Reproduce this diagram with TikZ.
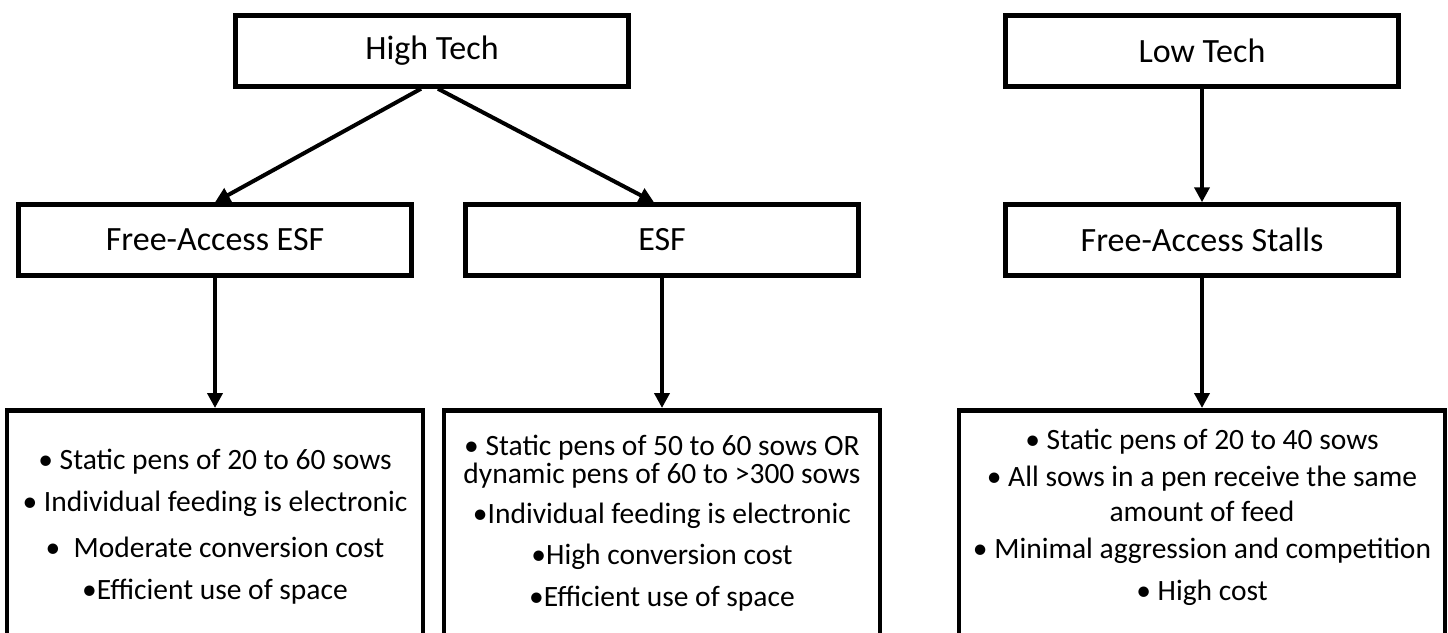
\documentclass[tikz,border=0pt]{standalone}
\usepackage{fontspec}
\setmainfont{Carlito}
\usetikzlibrary{arrows.meta,positioning}
\tikzset{
  techbox/.style={draw, line width=4.5pt, minimum width=393pt, minimum height=71pt,
    inner sep=0pt, font=\fontsize{34}{40}\selectfont},
  listbox/.style={draw, line width=4.5pt, minimum height=300pt, inner sep=0pt, anchor=north},
  listtext/.style={align=center, font=\fontsize{29.5}{42}\selectfont},
  arr/.style={line width=4pt, -{Triangle[length=15pt,width=15pt]}}
}
\begin{document}
\begin{tikzpicture}[x=1pt,y=-1pt]
        \useasboundingbox (0,0) rectangle (1448,632);
        \clip (0,0) rectangle (1448,632);
        % top row
        \node[techbox] (high) at (432,51) {High Tech};
        \node[techbox] (low) at (1202,51) {Low Tech};
        % second row
        \node[techbox] (faesf) at (215,240) {Free-Access ESF};
        \node[techbox] (esf) at (662,240) {ESF};
        \node[techbox] (fastall) at (1202,240) {Free-Access Stalls};
        % bottom row, open at the lower edge
        \node[listbox, minimum width=416pt] (faesflist) at (215,408) {};
        \node[listbox, minimum width=436pt] (esflist) at (662,408) {};
        \node[listbox, minimum width=486pt] (fastalllist) at (1202,408) {};

        \node[listtext] (faesftext) at (215,527) {• Static pens of 20 to 60 sows\\
            • Individual feeding is electronic\\[4pt]
            •\ \ Moderate conversion cost\\
            •Efficient use of space};
        \node[listtext] (esftext) at (662,523) {• Static pens of 50 to 60 sows OR\\[-14pt]
            dynamic pens of 60 to >300 sows\\[-2pt]
            •Individual feeding is electronic\\[-1pt]
            •High conversion cost\\
            •Efficient use of space};
        \node[listtext] (fastalltext) at (1202,517) {• Static pens of 20 to 40 sows\\[-5pt]
            • All sows in a pen receive the same\\[-7pt]
            amount of feed\\[-5pt]
            • Minimal aggression and competition\\
            • High cost};

        % connectors
        \draw[arr] ([xshift=-11pt]high.south) -- (faesf.north);
        \draw[arr] ([xshift=6pt]high.south) -- ([xshift=-8pt]esf.north);
        \draw[arr] (low.south) -- (fastall.north);
        \draw[arr] (faesf.south) -- (faesflist.north);
        \draw[arr] (esf.south) -- (esflist.north);
        \draw[arr] (fastall.south) -- (fastalllist.north);
\end{tikzpicture}
\end{document}
